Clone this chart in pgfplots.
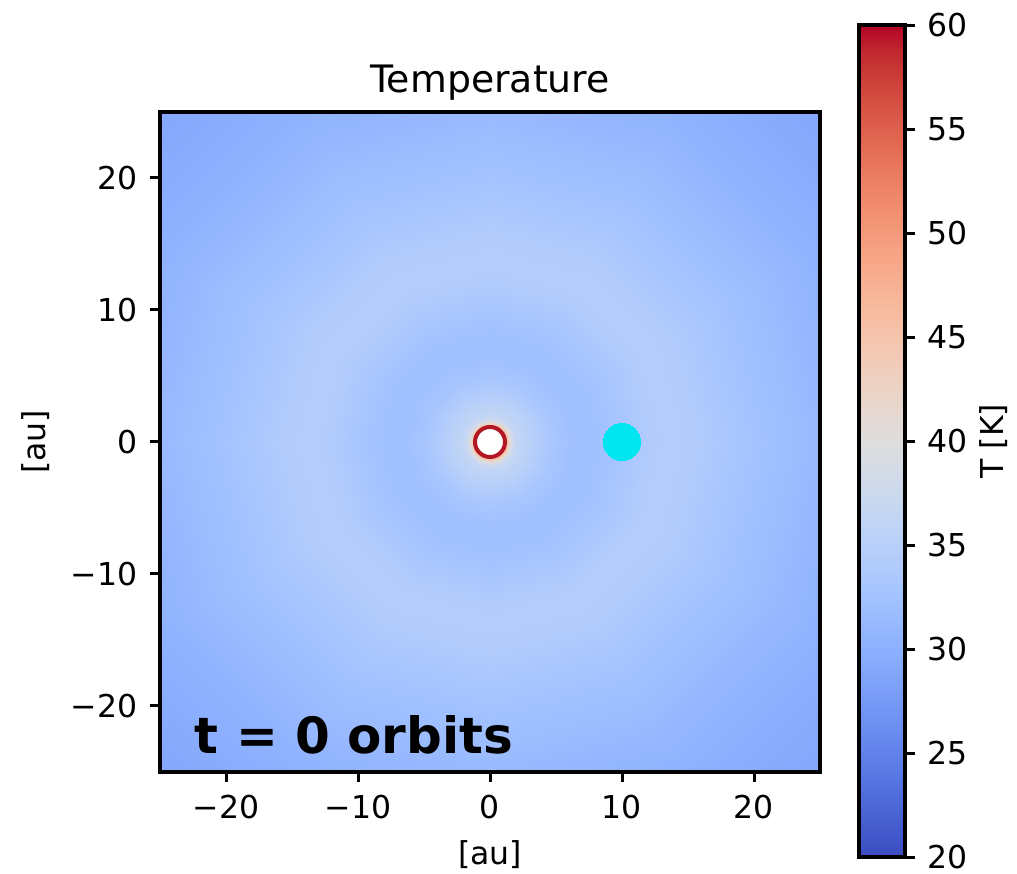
\documentclass[border=0pt]{standalone}
\usepackage{pgfplots}
\pgfplotsset{compat=1.18}
\usepackage{fontspec}
\setmainfont{DejaVu Sans}
\usetikzlibrary{calc}
\pgfplotsset{
  colormap={coolwarm}{
    rgb255=(59,76,192) rgb255=(68,90,204) rgb255=(77,104,215) rgb255=(87,117,225)
    rgb255=(98,130,234) rgb255=(108,142,241) rgb255=(119,154,247) rgb255=(130,165,251)
    rgb255=(141,176,254) rgb255=(152,185,255) rgb255=(163,194,255) rgb255=(174,201,253)
    rgb255=(184,208,249) rgb255=(194,213,244) rgb255=(204,217,238) rgb255=(213,219,230)
    rgb255=(221,221,221) rgb255=(229,216,209) rgb255=(236,211,197) rgb255=(241,204,185)
    rgb255=(245,196,173) rgb255=(247,187,160) rgb255=(247,177,148) rgb255=(247,166,135)
    rgb255=(244,154,123) rgb255=(241,141,111) rgb255=(236,127,99) rgb255=(229,112,88)
    rgb255=(222,96,77) rgb255=(213,80,66) rgb255=(203,62,56) rgb255=(192,40,47)
    rgb255=(180,4,38)
  },
  colorbar shift/.style={},
}
\definecolor{starred}{RGB}{178,24,36}
\definecolor{planetcyan}{RGB}{0,230,240}
\newcommand{\tickfont}{\fontsize{9.45}{11}\selectfont}
\begin{document}
\begin{tikzpicture}
\useasboundingbox (0,0) rectangle (305.1pt,262.2pt);
\begin{axis}[
  at={(48pt,30.6pt)}, anchor=south west,
  scale only axis, width=198pt, height=198pt,
  xmin=-25, xmax=25, ymin=-25, ymax=25,
  enlargelimits=false,
  axis on top,
  line width=1.05pt,
  axis line style={line width=1.05pt},
  every tick/.style={black, line width=0.9pt},
  tick align=outside, major tick length=3pt, tick pos=left,
  xtick={-20,-10,0,10,20}, xticklabels={−20,−10,0,10,20},
  ytick={-20,-10,0,10,20}, yticklabels={−20,−10,0,10,20},
  ticklabel style={font=\tickfont},
  xlabel={[au]}, ylabel={[au]},
  every axis x label/.style={at={(axis description cs:0.5,0)}, anchor=center, yshift=-24.9pt, font=\tickfont},
  every axis y label/.style={at={(axis description cs:0,0.5)}, anchor=center, xshift=-37.2pt, rotate=90, font=\tickfont},
  title={Temperature},
  every axis title/.style={at={(axis description cs:0.5,1)}, anchor=base, yshift=5.7pt, font=\fontsize{11.34}{13}\selectfont},
  colormap name=coolwarm,
  point meta min=20, point meta max=60,
  colorbar,
  colorbar style={
    at={($(parent axis.south east)+(11.7pt,-25.5pt)$)}, anchor=south west,
    scale only axis, width=13.8pt, height=249.6pt,
    line width=1.05pt,
    axis line style={line width=1.05pt},
    every tick/.style={black, line width=0.9pt},
    tick align=outside, major tick length=3pt,
    xtick=\empty,
    ytick={20,25,30,35,40,45,50,55,60},
    yticklabels={20,25,30,35,40,45,50,55,60},
    ytick pos=right, yticklabel pos=right,
    yticklabel style={font=\tickfont},
    ylabel={T [K]},
    every axis y label/.style={at={(axis description cs:1,0.5)}, anchor=center, xshift=26.7pt, rotate=90, font=\tickfont},
  },
]
\addplot[surf, shader=interp, data cs=polar, point meta=explicit] table[x=a, y=r, meta=T] {
a r T
0 0 60
30 0 60
60 0 60
90 0 60
120 0 60
150 0 60
180 0 60
210 0 60
240 0 60
270 0 60
300 0 60
330 0 60
360 0 60

0 0.5 59
30 0.5 59
60 0.5 59
90 0.5 59
120 0.5 59
150 0.5 59
180 0.5 59
210 0.5 59
240 0.5 59
270 0.5 59
300 0.5 59
330 0.5 59
360 0.5 59

0 0.9 55
30 0.9 55
60 0.9 55
90 0.9 55
120 0.9 55
150 0.9 55
180 0.9 55
210 0.9 55
240 0.9 55
270 0.9 55
300 0.9 55
330 0.9 55
360 0.9 55

0 1.2 48
30 1.2 48
60 1.2 48
90 1.2 48
120 1.2 48
150 1.2 48
180 1.2 48
210 1.2 48
240 1.2 48
270 1.2 48
300 1.2 48
330 1.2 48
360 1.2 48

0 1.45 42
30 1.45 42
60 1.45 42
90 1.45 42
120 1.45 42
150 1.45 42
180 1.45 42
210 1.45 42
240 1.45 42
270 1.45 42
300 1.45 42
330 1.45 42
360 1.45 42

0 1.7 38.5
30 1.7 38.5
60 1.7 38.5
90 1.7 38.5
120 1.7 38.5
150 1.7 38.5
180 1.7 38.5
210 1.7 38.5
240 1.7 38.5
270 1.7 38.5
300 1.7 38.5
330 1.7 38.5
360 1.7 38.5

0 2.0 36.5
30 2.0 36.5
60 2.0 36.5
90 2.0 36.5
120 2.0 36.5
150 2.0 36.5
180 2.0 36.5
210 2.0 36.5
240 2.0 36.5
270 2.0 36.5
300 2.0 36.5
330 2.0 36.5
360 2.0 36.5

0 2.5 35.8
30 2.5 35.8
60 2.5 35.8
90 2.5 35.8
120 2.5 35.8
150 2.5 35.8
180 2.5 35.8
210 2.5 35.8
240 2.5 35.8
270 2.5 35.8
300 2.5 35.8
330 2.5 35.8
360 2.5 35.8

0 3.2 35.0
30 3.2 35.0
60 3.2 35.0
90 3.2 35.0
120 3.2 35.0
150 3.2 35.0
180 3.2 35.0
210 3.2 35.0
240 3.2 35.0
270 3.2 35.0
300 3.2 35.0
330 3.2 35.0
360 3.2 35.0

0 4.0 34.0
30 4.0 34.0
60 4.0 34.0
90 4.0 34.0
120 4.0 34.0
150 4.0 34.0
180 4.0 34.0
210 4.0 34.0
240 4.0 34.0
270 4.0 34.0
300 4.0 34.0
330 4.0 34.0
360 4.0 34.0

0 5.0 33.0
30 5.0 33.0
60 5.0 33.0
90 5.0 33.0
120 5.0 33.0
150 5.0 33.0
180 5.0 33.0
210 5.0 33.0
240 5.0 33.0
270 5.0 33.0
300 5.0 33.0
330 5.0 33.0
360 5.0 33.0

0 6.2 32.3
30 6.2 32.3
60 6.2 32.3
90 6.2 32.3
120 6.2 32.3
150 6.2 32.3
180 6.2 32.3
210 6.2 32.3
240 6.2 32.3
270 6.2 32.3
300 6.2 32.3
330 6.2 32.3
360 6.2 32.3

0 7.5 32.1
30 7.5 32.1
60 7.5 32.1
90 7.5 32.1
120 7.5 32.1
150 7.5 32.1
180 7.5 32.1
210 7.5 32.1
240 7.5 32.1
270 7.5 32.1
300 7.5 32.1
330 7.5 32.1
360 7.5 32.1

0 9.0 32.5
30 9.0 32.5
60 9.0 32.5
90 9.0 32.5
120 9.0 32.5
150 9.0 32.5
180 9.0 32.5
210 9.0 32.5
240 9.0 32.5
270 9.0 32.5
300 9.0 32.5
330 9.0 32.5
360 9.0 32.5

0 10.5 33.2
30 10.5 33.2
60 10.5 33.2
90 10.5 33.2
120 10.5 33.2
150 10.5 33.2
180 10.5 33.2
210 10.5 33.2
240 10.5 33.2
270 10.5 33.2
300 10.5 33.2
330 10.5 33.2
360 10.5 33.2

0 12.0 34.0
30 12.0 34.0
60 12.0 34.0
90 12.0 34.0
120 12.0 34.0
150 12.0 34.0
180 12.0 34.0
210 12.0 34.0
240 12.0 34.0
270 12.0 34.0
300 12.0 34.0
330 12.0 34.0
360 12.0 34.0

0 13.5 34.5
30 13.5 34.5
60 13.5 34.5
90 13.5 34.5
120 13.5 34.5
150 13.5 34.5
180 13.5 34.5
210 13.5 34.5
240 13.5 34.5
270 13.5 34.5
300 13.5 34.5
330 13.5 34.5
360 13.5 34.5

0 15.0 34.4
30 15.0 34.4
60 15.0 34.4
90 15.0 34.4
120 15.0 34.4
150 15.0 34.4
180 15.0 34.4
210 15.0 34.4
240 15.0 34.4
270 15.0 34.4
300 15.0 34.4
330 15.0 34.4
360 15.0 34.4

0 16.5 33.9
30 16.5 33.9
60 16.5 33.9
90 16.5 33.9
120 16.5 33.9
150 16.5 33.9
180 16.5 33.9
210 16.5 33.9
240 16.5 33.9
270 16.5 33.9
300 16.5 33.9
330 16.5 33.9
360 16.5 33.9

0 18.5 33.1
30 18.5 33.1
60 18.5 33.1
90 18.5 33.1
120 18.5 33.1
150 18.5 33.1
180 18.5 33.1
210 18.5 33.1
240 18.5 33.1
270 18.5 33.1
300 18.5 33.1
330 18.5 33.1
360 18.5 33.1

0 21.0 32.3
30 21.0 32.3
60 21.0 32.3
90 21.0 32.3
120 21.0 32.3
150 21.0 32.3
180 21.0 32.3
210 21.0 32.3
240 21.0 32.3
270 21.0 32.3
300 21.0 32.3
330 21.0 32.3
360 21.0 32.3

0 24.0 31.6
30 24.0 31.6
60 24.0 31.6
90 24.0 31.6
120 24.0 31.6
150 24.0 31.6
180 24.0 31.6
210 24.0 31.6
240 24.0 31.6
270 24.0 31.6
300 24.0 31.6
330 24.0 31.6
360 24.0 31.6

0 27.0 30.7
30 27.0 30.7
60 27.0 30.7
90 27.0 30.7
120 27.0 30.7
150 27.0 30.7
180 27.0 30.7
210 27.0 30.7
240 27.0 30.7
270 27.0 30.7
300 27.0 30.7
330 27.0 30.7
360 27.0 30.7

0 30.0 30.0
30 30.0 30.0
60 30.0 30.0
90 30.0 30.0
120 30.0 30.0
150 30.0 30.0
180 30.0 30.0
210 30.0 30.0
240 30.0 30.0
270 30.0 30.0
300 30.0 30.0
330 30.0 30.0
360 30.0 30.0

0 33.0 29.5
30 33.0 29.5
60 33.0 29.5
90 33.0 29.5
120 33.0 29.5
150 33.0 29.5
180 33.0 29.5
210 33.0 29.5
240 33.0 29.5
270 33.0 29.5
300 33.0 29.5
330 33.0 29.5
360 33.0 29.5

0 36.0 29.1
30 36.0 29.1
60 36.0 29.1
90 36.0 29.1
120 36.0 29.1
150 36.0 29.1
180 36.0 29.1
210 36.0 29.1
240 36.0 29.1
270 36.0 29.1
300 36.0 29.1
330 36.0 29.1
360 36.0 29.1

0 39.0 28.8
30 39.0 28.8
60 39.0 28.8
90 39.0 28.8
120 39.0 28.8
150 39.0 28.8
180 39.0 28.8
210 39.0 28.8
240 39.0 28.8
270 39.0 28.8
300 39.0 28.8
330 39.0 28.8
360 39.0 28.8
};
\addplot[planetcyan, only marks, mark=*, mark size=5.55pt, mark options={fill=planetcyan, draw=planetcyan, line width=0pt}] coordinates {(10,0)};
\addplot[starred, only marks, mark=*, mark size=4.5pt, mark options={fill=white, draw=starred, line width=1.2pt}] coordinates {(0,0)};
\node[anchor=base west, font=\bfseries\fontsize{15}{18}\selectfont, inner sep=0pt] at (axis cs:-22.5,-23.6) {t = 0 orbits};
\end{axis}
\end{tikzpicture}
\end{document}
